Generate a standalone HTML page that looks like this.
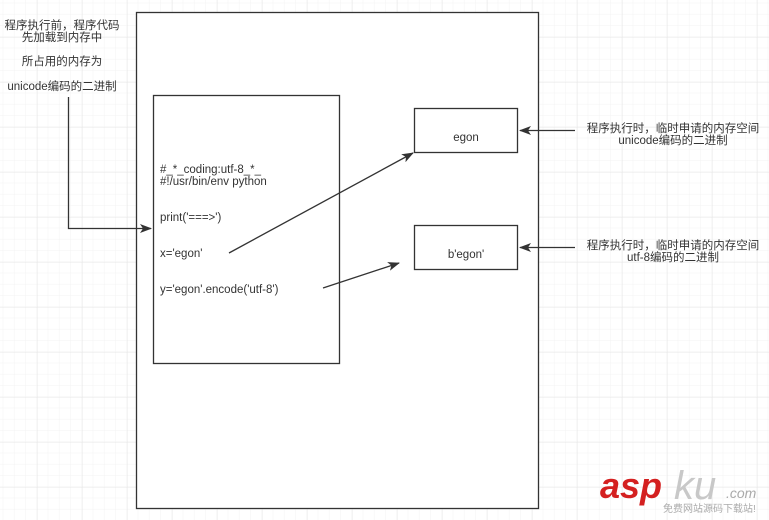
<!DOCTYPE html>
<html><head><meta charset="utf-8"><style>
html,body{margin:0;padding:0;}
body{width:769px;height:520px;overflow:hidden;background:#fff;position:relative;font-family:"Liberation Sans","Noto Sans CJK SC",sans-serif;}
svg{position:absolute;left:0;top:0;}
</style></head><body>
<svg width="769" height="520" viewBox="0 0 769 520" xmlns="http://www.w3.org/2000/svg">
<defs>
<pattern id="minor" x="3.2" y="3.2" width="11.25" height="11.25" patternUnits="userSpaceOnUse">
<path d="M11.25 0V11.25M0 11.25H11.25" fill="none" stroke="#f3f3f3" stroke-width="1"/>
</pattern>
<pattern id="major" x="37.7" y="37.7" width="45" height="45" patternUnits="userSpaceOnUse">
<path d="M45 0V45M0 45H45" fill="none" stroke="#e8e8e8" stroke-width="1"/>
</pattern>
<marker id="ar" markerWidth="12" markerHeight="9" refX="11" refY="4.5" orient="auto" markerUnits="userSpaceOnUse">
<path d="M0,0 L12,4.5 L0,9 L3,4.5 Z" fill="#333"/>
</marker>
</defs>
<rect width="769" height="520" fill="url(#minor)"/>
<rect width="769" height="520" fill="url(#major)"/>
<g fill="#fff" stroke="#333" stroke-width="1.3">
<rect x="136.5" y="12.5" width="402" height="496"/>
<rect x="153.5" y="95.5" width="186" height="268"/>
<rect x="414.5" y="108.5" width="103" height="44"/>
<rect x="414.5" y="225.5" width="103" height="44"/>
</g>
<g fill="none" stroke="#333" stroke-width="1.3">
<path d="M68.5 97 V228.5 H151" marker-end="url(#ar)"/>
<path d="M229 253 L413 153" marker-end="url(#ar)"/>
<path d="M323 288 L399 263" marker-end="url(#ar)"/>
<path d="M575 130.5 H520" marker-end="url(#ar)"/>
<path d="M575 247.5 H520" marker-end="url(#ar)"/>
</g>
<g font-size="11.5" fill="#333" text-anchor="middle">
<text x="62" y="29">程序执行前，程序代码</text>
<text x="62" y="41">先加载到内存中</text>
<text x="62" y="65">所占用的内存为</text>
<text x="62" y="90">unicode编码的二进制</text>
<text x="466" y="141">egon</text>
<text x="466" y="258">b'egon'</text>
<text x="673" y="132">程序执行时，临时申请的内存空间</text>
<text x="673" y="144">unicode编码的二进制</text>
<text x="673" y="249">程序执行时，临时申请的内存空间</text>
<text x="673" y="261">utf-8编码的二进制</text>
</g>
<g font-size="11.5" fill="#333">
<text x="160" y="173">#_*_coding:utf-8_*_</text>
<text x="160" y="185">#!/usr/bin/env python</text>
<text x="160" y="221">print('===&gt;')</text>
<text x="160" y="257">x='egon'</text>
<text x="160" y="293">y='egon'.encode('utf-8')</text>
</g>
<text x="600" y="498" font-size="36" font-weight="bold" font-style="italic" fill="#d42020" font-family="Liberation Sans,sans-serif">asp</text>
<text x="674" y="499" font-size="40" font-style="italic" fill="#c8c8c8" font-family="Liberation Sans,sans-serif">ku</text>
<text x="726" y="498" font-size="14" font-style="italic" fill="#aaa">.com</text>
<text x="663" y="512" font-size="10" fill="#aaa">免费网站源码下载站!</text>
</svg>
</body></html>
